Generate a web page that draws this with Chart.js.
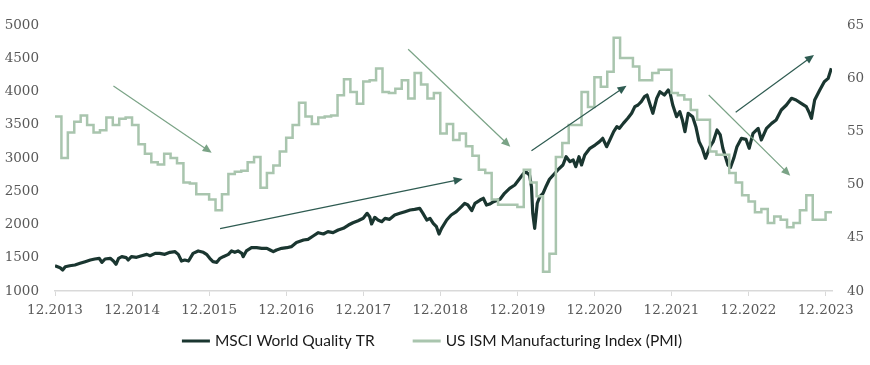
<!DOCTYPE html>
<html>
<head>
<meta charset="utf-8">
<script src="https://cdn.jsdelivr.net/npm/chart.js@4.4.1/dist/chart.umd.min.js"></script>
<style>
  html, body { margin: 0; padding: 0; background: #ffffff; }
  #wrap { width: 870px; height: 365px; }
</style>
</head>
<body>
<div id="wrap"><canvas id="qualityChart" width="870" height="365"></canvas></div>
<script>
// x axis: months since 12.2013 (0 = 12.2013, 120 = 12.2023)
const tickLabels = ["12.2013", "12.2014", "12.2015", "12.2016", "12.2017", "12.2018",
  "12.2019", "12.2020", "12.2021", "12.2022", "12.2023"];

const seriesNames = ["MSCI World Quality TR", "US ISM Manufacturing Index (PMI)"];

// MSCI World Quality TR (month index, level)
const msciMonths = [0, 0.8, 1.2, 1.6, 2.3, 3.1, 3.9, 4.7, 5.5, 6.2,
  6.9, 7.3, 7.8, 8.6, 9.1, 9.5, 9.9, 10.4, 11.1, 11.4,
  11.9, 12.7, 13.5, 14.3, 14.8, 15.6, 16.3, 17.1, 17.9, 18.7,
  19.2, 19.7, 20.2, 20.8, 21.5, 22.3, 23.1, 23.6, 24.1, 24.6,
  25.2, 25.7, 26.2, 27.0, 27.5, 28.0, 28.5, 29.1, 29.3, 29.8,
  30.6, 31.4, 32.2, 33.0, 33.5, 34.0, 34.5, 35.3, 36.1, 36.8,
  37.6, 38.7, 39.4, 40.2, 41.0, 41.8, 42.5, 43.3, 44.1, 44.9,
  45.7, 46.4, 47.2, 48.0, 48.6, 49.0, 49.3, 49.8, 50.3, 50.9,
  51.4, 52.1, 52.9, 53.7, 54.5, 55.3, 56.0, 56.8, 57.3, 57.9,
  58.4, 58.9, 59.4, 59.8, 60.2, 61.0, 61.7, 62.5, 63.3, 63.8,
  64.3, 64.9, 65.4, 66.2, 66.7, 67.2, 67.7, 68.3, 69.3, 70.0,
  70.8, 71.6, 72.4, 72.9, 73.3, 73.9, 74.2, 74.4, 74.7, 75.1,
  75.5, 76.0, 76.5, 77.0, 77.6, 78.3, 79.1, 79.6, 80.2, 80.7,
  81.1, 81.6, 82.0, 82.5, 83.3, 84.1, 84.8, 85.3, 85.9, 86.4,
  87.0, 87.5, 87.9, 88.5, 89.2, 89.8, 90.3, 90.8, 91.3, 91.8,
  92.2, 92.6, 93.1, 93.7, 94.2, 94.9, 95.5, 95.8, 96.2, 96.8,
  97.3, 97.7, 98.1, 98.6, 99.3, 99.8, 100.3, 100.8, 101.3, 102.0,
  102.5, 103.1, 103.6, 104.0, 104.4, 104.8, 105.2, 105.7, 106.2, 106.9,
  107.6, 108.1, 108.7, 109.5, 110.0, 110.8, 111.6, 112.3, 113.1, 113.9,
  114.7, 115.4, 116.2, 117.0, 117.5, 117.8, 118.3, 119.1, 119.8, 120.4,
  120.9];
const msciValues = [1380, 1350, 1316, 1365, 1380, 1391, 1416, 1441, 1466, 1481,
  1491, 1431, 1481, 1491, 1451, 1401, 1491, 1516, 1501, 1466,
  1516, 1506, 1531, 1551, 1531, 1566, 1566, 1551, 1582, 1591,
  1551, 1451, 1466, 1451, 1566, 1602, 1582, 1551, 1491, 1441,
  1431, 1491, 1516, 1551, 1602, 1582, 1602, 1566, 1516, 1602,
  1651, 1651, 1642, 1642, 1617, 1591, 1617, 1642, 1651, 1667,
  1730, 1767, 1777, 1827, 1877, 1857, 1892, 1877, 1917, 1943,
  1992, 2027, 2057, 2093, 2168, 2118, 2008, 2108, 2068, 2042,
  2093, 2078, 2143, 2168, 2193, 2218, 2228, 2243, 2168, 2068,
  2093, 2018, 1967, 1857, 1943, 2068, 2143, 2193, 2268, 2319,
  2293, 2208, 2319, 2368, 2394, 2293, 2308, 2343, 2379, 2469,
  2544, 2594, 2695, 2759, 2794, 2744, 2569, 2168, 1943, 2319,
  2418, 2469, 2580, 2680, 2744, 2820, 2895, 3020, 2945, 2970,
  2870, 3020, 2895, 3045, 3146, 3195, 3246, 3296, 3170, 3271,
  3396, 3471, 3446, 3521, 3597, 3672, 3772, 3797, 3847, 3922,
  3947, 3822, 3672, 3897, 3997, 3947, 4022, 3972, 3797, 3621,
  3697, 3571, 3396, 3672, 3621, 3471, 3246, 3146, 2995, 3170,
  3246, 3421, 3346, 3146, 3020, 2895, 2860, 2995, 3170, 3296,
  3281, 3146, 3371, 3446, 3271, 3446, 3521, 3571, 3722, 3797,
  3897, 3872, 3822, 3772, 3672, 3596, 3872, 4022, 4147, 4197,
  4348];

// ISM PMI, monthly from 12.2013 to 12.2023
const pmiValues = [56.4,
  52.5, 54.9, 55.9, 56.5, 55.6, 54.9, 55.1, 56.3, 55.6, 56.2, 56.3, 55.6,   // 2014
  53.8, 52.9, 52.1, 51.9, 52.9, 52.5, 52.0, 50.2, 50.1, 49.1, 49.1, 48.6,   // 2015
  47.6, 49.1, 51.0, 51.2, 51.3, 52.1, 52.6, 49.7, 51.1, 51.8, 53.1, 54.4,   // 2016
  55.6, 57.7, 56.4, 55.7, 56.3, 56.4, 56.5, 58.4, 59.9, 58.7, 57.6, 59.7,   // 2017
  59.8, 60.9, 58.7, 58.6, 59.0, 59.8, 58.1, 60.5, 59.4, 58.1, 58.6, 54.8,   // 2018
  55.7, 54.2, 54.8, 53.6, 52.7, 51.4, 51.1, 48.6, 48.1, 48.1, 48.1, 47.9,   // 2019
  51.4, 50.2, 48.9, 41.8, 43.5, 52.6, 53.9, 55.6, 55.6, 58.7, 57.3, 60.1,   // 2020
  59.2, 60.6, 63.8, 61.9, 61.9, 61.1, 59.8, 59.8, 60.5, 60.8, 60.8, 58.6,   // 2021
  58.4, 58.0, 57.0, 56.1, 56.1, 53.1, 52.8, 52.8, 51.1, 50.2, 49.0, 48.4,   // 2022
  47.4, 47.7, 46.4, 47.0, 46.7, 46.0, 46.4, 47.6, 49.0, 46.7, 46.7, 47.4];  // 2023

// trend arrows in (month index, left axis value)
const arrowStarts = [[9.1, 4083], [25.7, 1937], [55.0, 4635], [74.2, 3110], [101.8, 3947], [106.0, 3687]];
const arrowEnds = [[24.4, 3080], [63.5, 2684], [70.9, 3170], [89.0, 4087], [114.5, 2734], [118.2, 4549]];
const arrowKinds = ["pmi", "msci", "pmi", "msci", "pmi", "msci"];

const darkColor = "#1a3630";
const pmiColor = "#a9c5ae";
const arrowColors = { pmi: "#7aa386", msci: "#2e5b51" };

const msciPoints = msciMonths.map((m, i) => ({ x: m, y: msciValues[i] }));
const pmiPoints = pmiValues.map((v, i) => ({ x: i, y: v }));
pmiPoints.push({ x: pmiValues.length, y: pmiValues[pmiValues.length - 1] });

const arrowPlugin = {
  id: "trendArrows",
  afterDatasetsDraw(chart) {
    const ctx = chart.ctx;
    const xs = chart.scales.x;
    const ys = chart.scales.y;
    ctx.save();
    arrowStarts.forEach((start, i) => {
      const x1 = xs.getPixelForValue(start[0]);
      const y1 = ys.getPixelForValue(start[1]);
      const x2 = xs.getPixelForValue(arrowEnds[i][0]);
      const y2 = ys.getPixelForValue(arrowEnds[i][1]);
      const angle = Math.atan2(y2 - y1, x2 - x1);
      const headLen = 9;
      const headHalf = 4;
      const color = arrowColors[arrowKinds[i]];
      ctx.strokeStyle = color;
      ctx.fillStyle = color;
      ctx.lineWidth = 1.2;
      ctx.beginPath();
      ctx.moveTo(x1, y1);
      ctx.lineTo(x2 - Math.cos(angle) * headLen * 0.8, y2 - Math.sin(angle) * headLen * 0.8);
      ctx.stroke();
      ctx.beginPath();
      ctx.moveTo(x2, y2);
      ctx.lineTo(x2 - headLen * Math.cos(angle) + headHalf * Math.sin(angle),
                 y2 - headLen * Math.sin(angle) - headHalf * Math.cos(angle));
      ctx.lineTo(x2 - headLen * Math.cos(angle) - headHalf * Math.sin(angle),
                 y2 - headLen * Math.sin(angle) + headHalf * Math.cos(angle));
      ctx.closePath();
      ctx.fill();
    });
    ctx.restore();
  }
};

// bottom legend with short line samples
const legendPlugin = {
  id: "lineLegend",
  afterDraw(chart) {
    const ctx = chart.ctx;
    const sample = 28, gapText = 5, gapItem = 38;
    const y = 341;
    ctx.save();
    ctx.font = "15.5px Lato";
    ctx.textBaseline = "middle";
    const widths = chart.data.datasets.map(ds => ctx.measureText(ds.label).width);
    const total = widths.reduce((a, w) => a + sample + gapText + w, 0) + gapItem * (widths.length - 1);
    let x = chart.width / 2 - 3 - total / 2;
    chart.data.datasets.forEach((ds, i) => {
      ctx.fillStyle = ds.borderColor;
      ctx.fillRect(x, y - 1.5, sample, 3);
      ctx.fillStyle = "#1a1a1a";
      ctx.fillText(ds.label, x + sample + gapText, y);
      x += sample + gapText + widths[i] + gapItem;
    });
    ctx.restore();
  }
};

const tickFont = { family: "'DejaVu Serif', serif", size: 13.5 };

new Chart(document.getElementById("qualityChart").getContext("2d"), {
  type: "line",
  data: {
    datasets: [
      {
        label: seriesNames[0],
        data: msciPoints,
        yAxisID: "y",
        borderColor: darkColor,
        borderWidth: 3.2,
        borderJoinStyle: "round",
        pointRadius: 0,
        tension: 0,
        order: 2,
      },
      {
        label: seriesNames[1],
        data: pmiPoints,
        yAxisID: "y1",
        borderColor: pmiColor,
        borderWidth: 2.5,
        stepped: true,
        pointRadius: 0,
        order: 1,
      },
    ],
  },
  options: {
    responsive: false,
    animation: false,
    layout: { padding: { top: 25, bottom: 34, left: 0, right: 0 } },
    plugins: {
      legend: { display: false },
      tooltip: { enabled: false },
    },
    scales: {
      x: {
        type: "linear",
        min: 0,
        max: 121,
        afterBuildTicks: (scale) => {
          scale.ticks = tickLabels.map((_, i) => ({ value: i * 12 }));
        },
        afterFit: (scale) => { scale.height = 40; },
        ticks: {
          callback: (value) => tickLabels[Math.round(value / 12)],
          font: tickFont,
          color: "#595959",
          padding: 6,
          maxRotation: 0,
          autoSkip: false,
        },
        grid: { drawOnChartArea: false, drawTicks: true, tickLength: 5, color: "#d9d9d9" },
        border: { display: true, color: "#d9d9d9", width: 1.5 },
      },
      y: {
        position: "left",
        min: 1000,
        max: 5000,
        afterFit: (scale) => { scale.width = 55; },
        ticks: { stepSize: 500, font: tickFont, color: "#595959", padding: 16, callback: (v) => String(v) },
        grid: { display: false, drawTicks: false },
        border: { display: false },
      },
      y1: {
        position: "right",
        min: 40,
        max: 65,
        afterFit: (scale) => { scale.width = 38; },
        ticks: { stepSize: 5, font: tickFont, color: "#595959", padding: 15, callback: (v) => String(v) },
        grid: { display: false, drawTicks: false },
        border: { display: false },
      },
    },
  },
  plugins: [arrowPlugin, legendPlugin],
});
</script>
</body>
</html>
